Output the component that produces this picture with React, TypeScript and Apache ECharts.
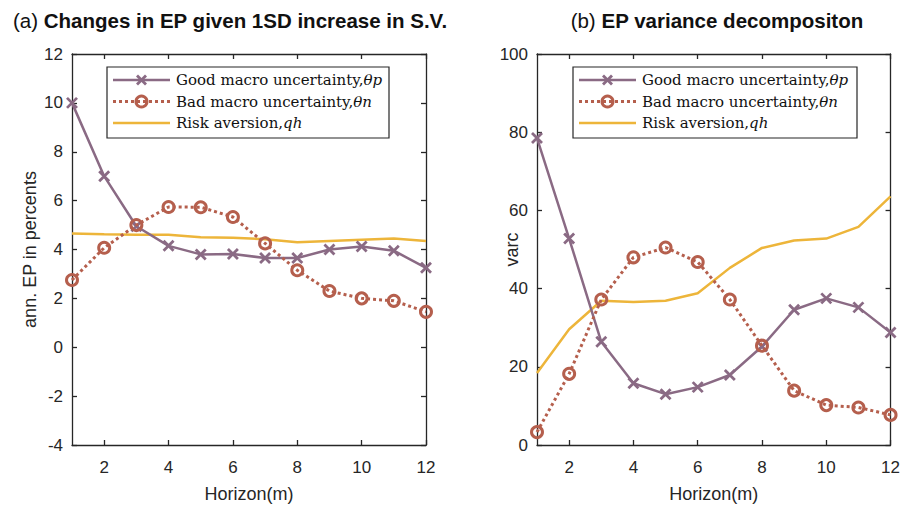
import React, { useEffect, useRef } from "react";
import * as echarts from "echarts";

const horizon = [1, 2, 3, 4, 5, 6, 7, 8, 9, 10, 11, 12];
const xTicks = [2, 4, 6, 8, 10, 12];

// (a) Changes in EP given 1SD increase in S.V.
const epGood = [10.0, 7.0, 4.95, 4.15, 3.8, 3.82, 3.65, 3.65, 4.0, 4.12, 3.95, 3.25];
const epBad = [2.75, 4.07, 5.0, 5.74, 5.73, 5.33, 4.25, 3.15, 2.3, 2.0, 1.9, 1.45];
const epRisk = [4.65, 4.62, 4.6, 4.6, 4.5, 4.48, 4.42, 4.3, 4.35, 4.4, 4.45, 4.35];

// (b) EP variance decomposition
const vdGood = [78.5, 52.8, 26.4, 15.8, 13.0, 14.8, 17.9, 25.2, 34.6, 37.5, 35.2, 28.8];
const vdBad = [3.3, 18.2, 37.2, 48.0, 50.5, 46.8, 37.2, 25.4, 13.9, 10.2, 9.6, 7.7];
const vdRisk = [18.4, 29.6, 36.9, 36.6, 36.9, 38.8, 45.3, 50.4, 52.3, 52.8, 55.8, 63.6];

const seriesNames = ["Good macro uncertainty,", "Bad macro uncertainty,", "Risk aversion,"];
const seriesSym = ["θp", "θn", "qh"];

const cGood = "#8a6a84";
const cBad = "#b55f4d";
const cRisk = "#edb53a";
const axisColor = "#262626";
const sans = "'Liberation Sans', Arial, Helvetica, sans-serif";
const serif = "'DejaVu Serif', 'Liberation Serif', serif";

const crossPath = "path://M0,0L10,10M10,0L0,10";

function pairs(v: number[]) {
  return horizon.map((h, i) => [h, v[i]]);
}

function xAxes(gi: number) {
  const line = { show: true, onZero: false, lineStyle: { color: axisColor, width: 1.3 } };
  return [
    {
      gridIndex: gi, type: "value", min: 1, max: 12, position: "bottom",
      axisLine: line,
      axisTick: { show: true, inside: true, length: 5, customValues: xTicks, lineStyle: { color: axisColor, width: 1.3 } },
      axisLabel: { customValues: xTicks, color: axisColor, fontSize: 17, fontFamily: sans, margin: 14 },
      splitLine: { show: false },
      name: "Horizon(m)", nameLocation: "middle", nameGap: 40, nameMoveOverlap: false,
      nameTextStyle: { color: axisColor, fontSize: 18, fontFamily: sans },
    },
    {
      gridIndex: gi, type: "value", min: 1, max: 12, position: "top",
      axisLine: line,
      axisTick: { show: true, inside: true, length: 5, customValues: xTicks, lineStyle: { color: axisColor, width: 1.3 } },
      axisLabel: { show: false },
      splitLine: { show: false },
    },
  ];
}

function yAxes(gi: number, min: number, max: number, interval: number, name: string, gap: number) {
  const line = { show: true, onZero: false, lineStyle: { color: axisColor, width: 1.3 } };
  return [
    {
      gridIndex: gi, type: "value", min, max, interval, position: "left",
      axisLine: line,
      axisTick: { show: true, inside: true, length: 5, lineStyle: { color: axisColor, width: 1.3 } },
      axisLabel: { color: axisColor, fontSize: 17, fontFamily: sans, margin: 9 },
      splitLine: { show: false },
      name, nameLocation: "middle", nameGap: gap, nameMoveOverlap: false,
      nameTextStyle: { color: axisColor, fontSize: 18, fontFamily: sans },
    },
    {
      gridIndex: gi, type: "value", min, max, interval, position: "right",
      axisLine: line,
      axisTick: { show: true, inside: true, length: 5, lineStyle: { color: axisColor, width: 1.3 } },
      axisLabel: { show: false },
      splitLine: { show: false },
    },
  ];
}

function makeSeries(xi: number, yi: number, good: number[], bad: number[], risk: number[]) {
  return [
    {
      type: "line", xAxisIndex: xi, yAxisIndex: yi, data: pairs(good),
      symbol: crossPath, symbolSize: 10, showSymbol: true, clip: false,
      lineStyle: { color: cGood, width: 2.5 },
      itemStyle: { color: cGood, borderColor: cGood, borderWidth: 2.8 },
      z: 3,
    },
    {
      type: "line", xAxisIndex: xi, yAxisIndex: yi, data: pairs(bad),
      symbol: "circle", symbolSize: 11, showSymbol: true, clip: false,
      lineStyle: { color: cBad, width: 3, type: [3, 3] },
      itemStyle: { color: "rgba(255,255,255,0)", borderColor: cBad, borderWidth: 3 },
      z: 4,
    },
    {
      type: "line", xAxisIndex: xi, yAxisIndex: yi, data: pairs(risk),
      showSymbol: false, symbol: "none",
      lineStyle: { color: cRisk, width: 2.5 },
      z: 2,
    },
  ];
}

function legend(left: number, top: number, width: number) {
  const rowH = 21.5;
  const children: any[] = [
    {
      type: "rect", shape: { x: left, y: top, width, height: 71 },
      style: { fill: "#fff", stroke: axisColor, lineWidth: 1.2 }, z: 10,
    },
  ];
  for (let i = 0; i < 3; i++) {
    const y = top + 13 + i * rowH;
    const x0 = left + 6, x1 = left + 63, xm = (x0 + x1) / 2;
    if (i === 0) {
      children.push({ type: "line", shape: { x1: x0, y1: y, x2: x1, y2: y }, style: { stroke: cGood, lineWidth: 2.5 }, z: 11 });
      children.push({ type: "line", shape: { x1: xm - 4.5, y1: y - 4.5, x2: xm + 4.5, y2: y + 4.5 }, style: { stroke: cGood, lineWidth: 2.8 }, z: 12 });
      children.push({ type: "line", shape: { x1: xm - 4.5, y1: y + 4.5, x2: xm + 4.5, y2: y - 4.5 }, style: { stroke: cGood, lineWidth: 2.8 }, z: 12 });
    } else if (i === 1) {
      children.push({ type: "line", shape: { x1: x0, y1: y, x2: x1, y2: y }, style: { stroke: cBad, lineWidth: 3, lineDash: [3, 3] }, z: 11 });
      children.push({ type: "circle", shape: { cx: xm, cy: y, r: 5.5 }, style: { fill: "rgba(255,255,255,0)", stroke: cBad, lineWidth: 3 }, z: 12 });
    } else {
      children.push({ type: "line", shape: { x1: x0, y1: y, x2: x1, y2: y }, style: { stroke: cRisk, lineWidth: 2.5 }, z: 11 });
    }
    children.push({
      type: "text", x: left + 69, y, z: 12,
      style: {
        text: `{n|${seriesNames[i]}}{m|${seriesSym[i]}}`,
        verticalAlign: "middle", textAlign: "left",
        rich: {
          n: { fontFamily: serif, fontSize: 15, fill: "#111" },
          m: { fontFamily: serif, fontSize: 15, fontStyle: "italic", fill: "#111" },
        },
      },
    });
  }
  return { type: "group", children };
}

export default function App() {
  const ref = useRef<HTMLDivElement>(null);
  useEffect(() => {
    if (!ref.current) return;
    const chart = echarts.init(ref.current, null, { renderer: "svg" });
    const titleRich = {
      a: { fontFamily: sans, fontSize: 20.5, color: "#111", fontWeight: "normal" },
      b: { fontFamily: sans, fontSize: 20.5, color: "#111", fontWeight: "bold" },
    };
    const option: any = {
      animation: false,
      backgroundColor: "#fff",
      title: [
        {
          left: 8, top: 5,
          text: "{a|(a) }{b|Changes in EP given 1SD increase in S.V.}",
          textStyle: { rich: titleRich },
        },
        {
          left: 712, top: 5, textAlign: "center",
          text: "{a|(b) }{b|EP variance decompositon}",
          textStyle: { rich: titleRich },
        },
      ],
      grid: [
        { left: 72, top: 54, width: 354, height: 393 },
        { left: 537, top: 54, width: 355, height: 393 },
      ],
      xAxis: [...xAxes(0), ...xAxes(1)],
      yAxis: [
        ...yAxes(0, -4, 12, 2, "ann. EP in percents", 33),
        ...yAxes(1, 0, 100, 20, "varc", 16),
      ],
      series: [
        ...makeSeries(0, 0, epGood, epBad, epRisk),
        ...makeSeries(2, 2, vdGood, vdBad, vdRisk),
      ],
      graphic: [legend(107, 67, 282), legend(573, 67, 284)],
    };
    chart.setOption(option);
    return () => chart.dispose();
  }, []);
  return (
    <div
      ref={ref}
      style={{ position: "fixed", left: 0, top: 0, width: 903, height: 508, background: "#fff" }}
    />
  );
}
